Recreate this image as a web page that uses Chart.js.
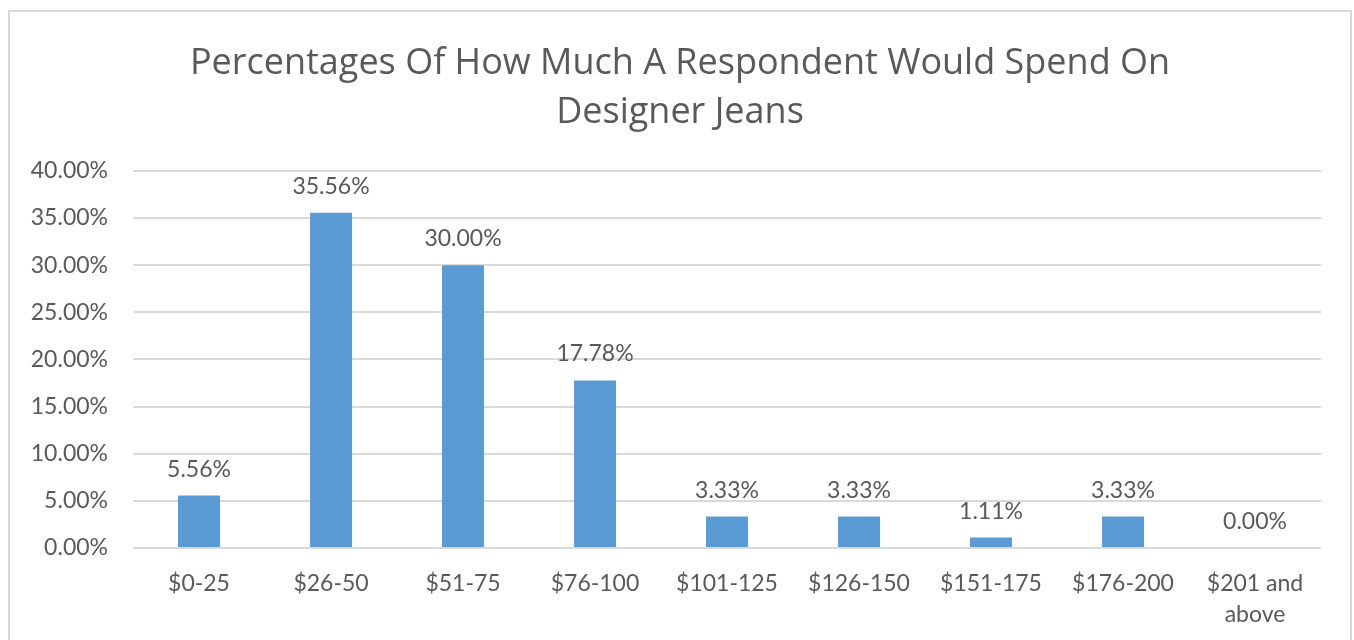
<!DOCTYPE html>
<html>
<head>
<meta charset="utf-8">
<script src="https://cdn.jsdelivr.net/npm/chart.js@4"></script>
<style>
  body { margin: 0; background: #fff; overflow: hidden; }
  #frame {
    position: absolute; left: 8px; top: 10px;
    width: 1340px; height: 636px;
    border: 2px solid #d9d9d9; background: #fff;
  }
  #wrap { position: relative; width: 1340px; height: 636px; }
</style>
</head>
<body>
<div id="frame"><div id="wrap"><canvas id="chart"></canvas></div></div>
<script>
// ===============================
// data
// ===============================
const categories = ['$0-25', '$26-50', '$51-75', '$76-100', '$101-125', '$126-150', '$151-175', '$176-200', ['$201 and', 'above']];
const percentages = [5.56, 35.56, 30.00, 17.78, 3.33, 3.33, 1.11, 3.33, 0.00];
const yTicks = [0, 5, 10, 15, 20, 25, 30, 35, 40];

const titleLines = ['Percentages Of How Much A Respondent Would Spend On', 'Designer Jeans'];

const FONT = 'Lato, "Open Sans", sans-serif';
const TITLE_FONT = '"Open Sans", Lato, sans-serif';
const TEXT = '#595959';
const GRID = '#d9d9d9';

// labels above bars
const barLabels = {
    id: 'barLabels',
    afterDatasetsDraw(chart) {
        const ctx = chart.ctx;
        const meta = chart.getDatasetMeta(0);
        ctx.save();
        ctx.font = '23px ' + FONT;
        ctx.fillStyle = TEXT;
        ctx.textAlign = 'center';
        ctx.textBaseline = 'alphabetic';
        meta.data.forEach((bar, i) => {
            ctx.fillText(percentages[i].toFixed(2) + '%', bar.x, bar.y - 19);
        });
        ctx.restore();
    }
};

new Chart(document.getElementById('chart'), {
    type: 'bar',
    data: {
        labels: categories,
        datasets: [{
            data: percentages,
            backgroundColor: '#5b9bd5',
            borderWidth: 0,
            barPercentage: 0.318,
            categoryPercentage: 1
        }]
    },
    options: {
        responsive: true,
        maintainAspectRatio: false,
        animation: false,
        layout: { padding: 0 },
        plugins: {
            legend: { display: false },
            tooltip: { enabled: false },
            title: {
                display: true,
                text: titleLines,
                color: TEXT,
                font: { family: TITLE_FONT, size: 36, weight: 'normal', lineHeight: 1.36 },
                padding: { top: 27, bottom: 34 }
            }
        },
        scales: {
            x: {
                grid: { display: false, drawTicks: false },
                border: { display: false },
                ticks: {
                    color: TEXT,
                    font: { family: FONT, size: 23, lineHeight: 1.35 },
                    padding: 20,
                    maxRotation: 0,
                    autoSkip: false
                },
                afterFit(scale) { scale.height = 100; }
            },
            y: {
                min: 0,
                max: 40,
                afterBuildTicks(scale) { scale.ticks = yTicks.map(v => ({ value: v })); },
                grid: { color: GRID, lineWidth: 2, drawTicks: false },
                border: { display: false },
                ticks: {
                    color: TEXT,
                    font: { family: FONT, size: 23 },
                    padding: 25,
                    callback: v => v.toFixed(2) + '%'
                },
                afterFit(scale) { scale.width = 123; }
            },
            // empty right axis: only keeps a gap right of the plot (title stays centred)
            yRight: {
                position: 'right',
                min: 0,
                max: 40,
                grid: { display: false, drawTicks: false },
                border: { display: false },
                ticks: { display: false },
                afterFit(scale) { scale.width = 29; }
            }
        }
    },
    plugins: [barLabels]
});
</script>
</body>
</html>
